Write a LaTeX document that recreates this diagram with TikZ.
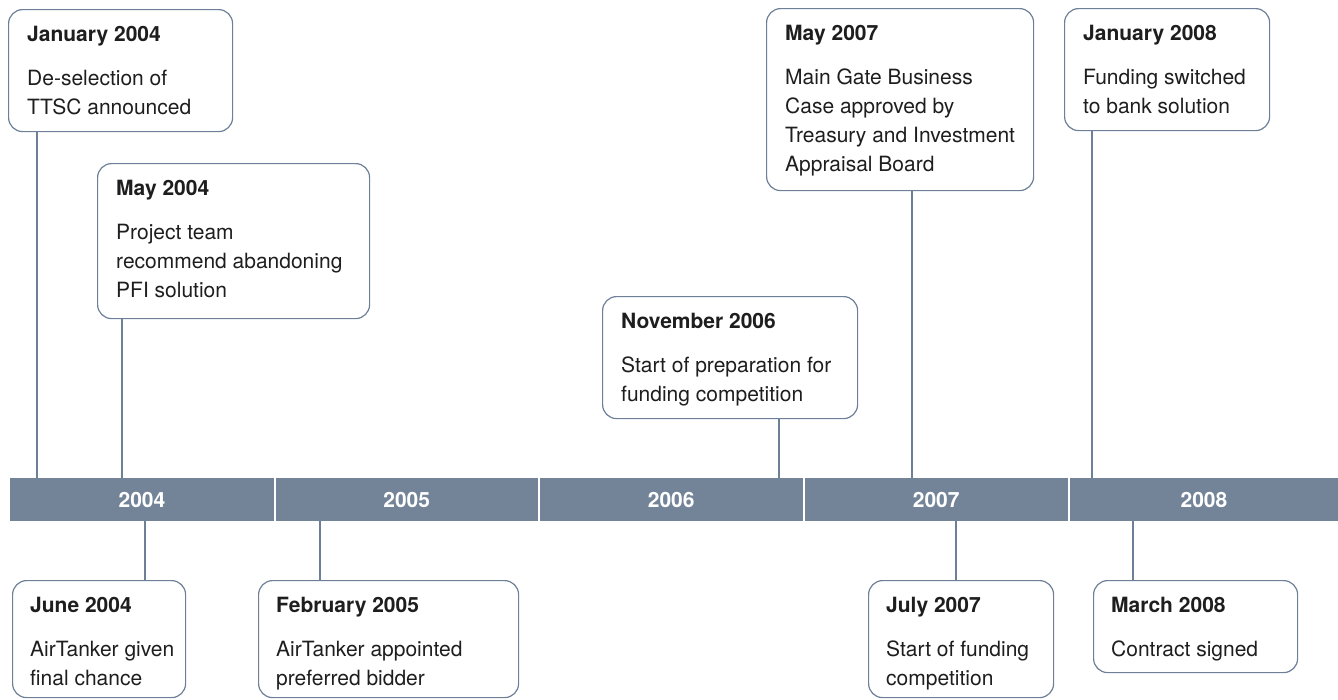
\documentclass[tikz,border=0pt]{standalone}
\usepackage{fontspec}
\setmainfont{TeX Gyre Heros}
\definecolor{slate}{HTML}{738499}
\definecolor{edge}{HTML}{6E8098}
\definecolor{ink}{HTML}{1E1E1E}
\tikzset{
  evbox/.style={draw=edge, line width=1.2pt, rounded corners=14pt, fill=white, inner sep=0pt, anchor=north west},
  evtext/.style={anchor=north west, inner sep=0pt, align=left, text=ink, font=\fontsize{21}{29}\selectfont},
  yearseg/.style={fill=slate, draw=none, inner sep=0pt, minimum height=43pt, text=white, font=\bfseries\fontsize{21}{24}\selectfont, anchor=north west},
  stem/.style={draw=edge, line width=2pt},
}
\begin{document}
\begin{tikzpicture}[x=1pt,y=-1pt]
\useasboundingbox (0,0) rectangle (1338,699);

% timeline bar
\node[yearseg, minimum width=263.5] (y2004) at (10,478) {2004};
\node[yearseg, minimum width=262]   (y2005) at (275.5,478) {2005};
\node[yearseg, minimum width=263]   (y2006) at (539.5,478) {2006};
\node[yearseg, minimum width=263]   (y2007) at (804.5,478) {2007};
\node[yearseg, minimum width=268.5] (y2008) at (1069.5,478) {2008};

% stem x positions
\coordinate (x1) at (37,0);
\coordinate (x2) at (122,0);
\coordinate (x3) at (779,0);
\coordinate (x4) at (912,0);
\coordinate (x5) at (1092,0);
\coordinate (x6) at (145,0);
\coordinate (x7) at (320,0);
\coordinate (x8) at (956,0);
\coordinate (x9) at (1133,0);

% boxes
\node[evbox, minimum width=224, minimum height=122] (b1) at (8,9) {};
\node[evbox, minimum width=272, minimum height=155] (b2) at (97,163) {};
\node[evbox, minimum width=255, minimum height=122] (b3) at (602,296) {};
\node[evbox, minimum width=267, minimum height=182] (b4) at (766,8) {};
\node[evbox, minimum width=205, minimum height=122] (b5) at (1064,8) {};
\node[evbox, minimum width=173, minimum height=117] (b6) at (12,580) {};
\node[evbox, minimum width=260, minimum height=117] (b7) at (258,580) {};
\node[evbox, minimum width=185, minimum height=117] (b8) at (868,580) {};
\node[evbox, minimum width=204, minimum height=92]  (b9) at (1093,580) {};

% stems
\draw[stem] (b1.south -| x1) -- (y2004.north -| x1);
\draw[stem] (b2.south -| x2) -- (y2004.north -| x2);
\draw[stem] (b3.south -| x3) -- (y2006.north -| x3);
\draw[stem] (b4.south -| x4) -- (y2007.north -| x4);
\draw[stem] (b5.south -| x5) -- (y2008.north -| x5);
\draw[stem] (y2004.south -| x6) -- (b6.north -| x6);
\draw[stem] (y2005.south -| x7) -- (b7.north -| x7);
\draw[stem] (y2007.south -| x8) -- (b8.north -| x8);
\draw[stem] (y2008.south -| x9) -- (b9.north -| x9);

% texts
\node[evtext] (t1) at (27,26) {\textbf{January 2004}\\[15pt]De-selection of\\TTSC announced};
\node[evtext] (t2) at (116,180) {\textbf{May 2004}\\[15pt]Project team\\recommend abandoning\\PFI solution};
\node[evtext] (t3) at (621,313) {\textbf{November 2006}\\[15pt]Start of preparation for\\funding competition};
\node[evtext] (t4) at (785,25) {\textbf{May 2007}\\[15pt]Main Gate Business\\Case approved by\\Treasury and Investment\\Appraisal Board};
\node[evtext] (t5) at (1083,25) {\textbf{January 2008}\\[15pt]Funding switched\\to bank solution};
\node[evtext] (t6) at (30,597) {\textbf{June 2004}\\[15pt]AirTanker given\\final chance};
\node[evtext] (t7) at (276,597) {\textbf{February 2005}\\[15pt]AirTanker appointed\\preferred bidder};
\node[evtext] (t8) at (886,597) {\textbf{July 2007}\\[15pt]Start of funding\\competition};
\node[evtext] (t9) at (1111,597) {\textbf{March 2008}\\[15pt]Contract signed};
\end{tikzpicture}
\end{document}
